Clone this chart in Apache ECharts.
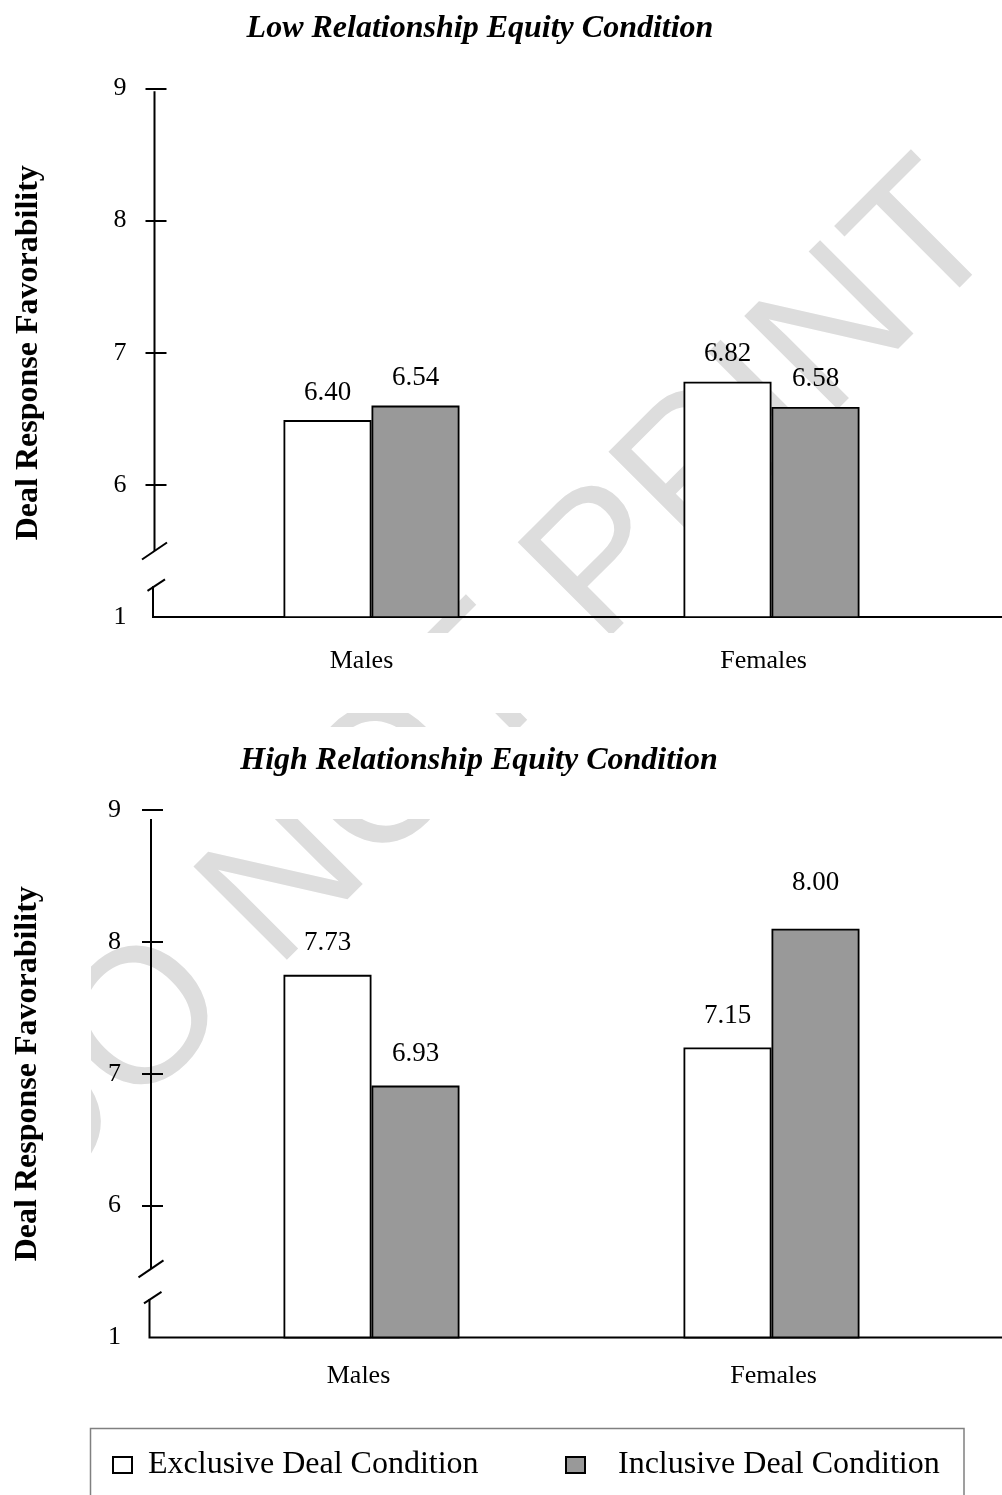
<!DOCTYPE html>
<html>
<head>
<meta charset="utf-8">
<script src="https://cdn.jsdelivr.net/npm/echarts@6/dist/echarts.min.js"></script>
<style>
html,body{margin:0;padding:0;background:#fff;}
#chart{width:1002px;height:1495px;}
</style>
</head>
<body>
<div id="chart"></div>
<script>
// ---------------- data ----------------
const categories = ['Males', 'Females'];
const seriesNames = ['Exclusive Deal Condition', 'Inclusive Deal Condition'];
const panelTitles = ['Low Relationship Equity Condition', 'High Relationship Equity Condition'];
const yAxisTitle = 'Deal Response Favorability';
const yTickValues = [5, 6, 7, 8, 9];
const yTickLabels = ['1', '6', '7', '8', '9'];
const yMarkValues = [6, 7, 8, 9];
// bar heights as drawn
const lowExclusive = [6.49, 6.78];
const lowInclusive = [6.60, 6.59];
const highExclusive = [7.75, 7.20];
const highInclusive = [6.91, 8.10];
// printed means
const lowExclusiveLabels = ['6.40', '6.82'];
const lowInclusiveLabels = ['6.54', '6.58'];
const highExclusiveLabels = ['7.73', '7.15'];
const highInclusiveLabels = ['6.93', '8.00'];
const watermarkText = 'DO NOT PRINT';

// ---------------- layout ----------------
const SERIF = "'Liberation Serif','Times New Roman',Times,serif";
const SANS = "'Liberation Sans',Arial,sans-serif";
const GRID_LEFT = 171.5, GRID_W = 800;
const panels = [
  {top: 88.3, height: 528.8, axisX: 154.5, labelMargin: 28, nameGap: 110, xLabelMargin: 31, labelDist: 14,
   titleTop: 8, titleX: 475, axisTopGap: 3, break1: 5.5, break2: 5.24, catShift: [-10, -8], labelRaise: {}},
  {top: 810, height: 527.5, axisX: 151, labelMargin: 30, nameGap: 107, xLabelMargin: 26, labelDist: 18,
   titleTop: 740, titleX: 474, axisTopGap: 9, break1: 5.52, break2: 5.30, catShift: [-13, 2], labelRaise: {'1-1': 14}}
];
const panelData = [
  [lowExclusive, lowInclusive, lowExclusiveLabels, lowInclusiveLabels],
  [highExclusive, highInclusive, highExclusiveLabels, highInclusiveLabels]
];

const chart = echarts.init(document.getElementById('chart'), null, {renderer: 'canvas'});

const grids = [], xAxes = [], yAxes = [], series = [], titles = [];
panels.forEach((p, i) => {
  grids.push({left: GRID_LEFT, width: GRID_W, top: p.top, height: p.height, containLabel: false});
  titles.push({
    text: panelTitles[i], left: p.titleX, top: p.titleTop, textAlign: 'center',
    textStyle: {fontFamily: SERIF, fontSize: 32, fontWeight: 'bold', fontStyle: 'italic', color: '#000'}
  });
  const rich = {};
  p.catShift.forEach((s, k) => {
    rich['c' + k] = {fontSize: 26, fontFamily: SERIF, color: '#000',
      padding: s < 0 ? [0, -2 * s, 0, 0] : [0, 0, 0, 2 * s]};
  });
  xAxes.push({
    type: 'category', gridIndex: i, data: categories,
    axisLine: {show: false}, axisTick: {show: false}, splitLine: {show: false},
    axisLabel: {
      margin: p.xLabelMargin, fontSize: 26, fontFamily: SERIF, color: '#000',
      formatter: (v, idx) => '{c' + idx + '|' + v + '}', rich: rich
    }
  });
  const offLeft = GRID_LEFT - p.axisX;
  yAxes.push({
    type: 'value', gridIndex: i, position: 'left', min: 5, max: 9, interval: 1, offset: offLeft,
    axisLine: {show: false}, splitLine: {show: false},
    axisTick: {show: true, inside: false, length: 9, customValues: yMarkValues, lineStyle: {color: '#000', width: 2}},
    axisLabel: {
      customValues: yTickValues,
      formatter: v => yTickLabels[yTickValues.indexOf(v)],
      margin: p.labelMargin, fontSize: 26, fontFamily: SERIF, color: '#000'
    },
    name: yAxisTitle, nameLocation: 'middle', nameGap: p.nameGap,
    nameTextStyle: {fontSize: 32, fontWeight: 'bold', fontFamily: SERIF, color: '#000'}
  });
  yAxes.push({
    type: 'value', gridIndex: i, position: 'right', min: 5, max: 9, interval: 1,
    offset: -(GRID_LEFT + GRID_W - p.axisX),
    axisLine: {show: false}, splitLine: {show: false}, axisLabel: {show: false},
    axisTick: {show: true, inside: false, length: 12, customValues: yMarkValues, lineStyle: {color: '#000', width: 2}}
  });
  const d = panelData[i];
  const colors = ['#ffffff', '#999999'];
  [0, 1].forEach(k => {
    const labels = d[2 + k];
    const items = d[k].map((v, j) => {
      const extra = p.labelRaise[k + '-' + j];
      return extra ? {value: v, label: {distance: p.labelDist + extra}} : v;
    });
    series.push({
      type: 'bar', name: seriesNames[k], xAxisIndex: i, yAxisIndex: i * 2,
      data: items, barWidth: 88, barGap: '0%',
      itemStyle: {color: colors[k], borderColor: '#000', borderWidth: 1.8},
      label: {
        show: true, position: 'top', distance: p.labelDist,
        formatter: q => labels[q.dataIndex],
        fontSize: 27, fontFamily: SERIF, color: '#000'
      },
      emphasis: {disabled: true}, silent: true
    });
  });
});

const legendText = {fontSize: 32, fontFamily: SERIF, color: '#000'};
const option = {
  animation: false,
  backgroundColor: '#ffffff',
  title: titles,
  grid: grids,
  xAxis: xAxes,
  yAxis: yAxes,
  series: series,
  legend: [
    {data: [seriesNames[0]], left: 107, top: 1444, icon: 'rect', itemWidth: 19, itemHeight: 16,
     selectedMode: false, textStyle: Object.assign({padding: [0, 0, 0, 11]}, legendText)},
    {data: [seriesNames[1]], left: 560, top: 1444, icon: 'rect', itemWidth: 19, itemHeight: 16,
     selectedMode: false, textStyle: Object.assign({padding: [0, 0, 0, 28]}, legendText)}
  ]
};
chart.setOption(option);

// ---------------- decorations (axis with break, watermark, legend box) ----------------
const els = [];
els.push({
  type: 'text', x: -3, y: 1175, rotation: Math.PI / 4, z: -10, silent: true,
  style: {text: watermarkText, fill: '#dddddd', fontSize: 192, fontFamily: SANS, align: 'left', verticalAlign: 'middle'}
});
[[0, 0, 91, 1495], [91, 633, 911, 80], [91, 727, 911, 92]].forEach(r => {
  els.push({type: 'rect', z: -5, silent: true, shape: {x: r[0], y: r[1], width: r[2], height: r[3]}, style: {fill: '#ffffff'}});
});
els.push({type: 'rect', z: -4, silent: true, shape: {x: 90.5, y: 1428.5, width: 873.5, height: 120},
  style: {fill: '#ffffff', stroke: '#808080', lineWidth: 1.5}});

panels.forEach((p, i) => {
  const yi = i * 2;
  const y9 = chart.convertToPixel({yAxisIndex: yi}, 9);
  const y5 = chart.convertToPixel({yAxisIndex: yi}, 5);
  const yb1 = chart.convertToPixel({yAxisIndex: yi}, p.break1);
  const yb2 = chart.convertToPixel({yAxisIndex: yi}, p.break2);
  const x = p.axisX;
  const ls = {stroke: '#000', lineWidth: 2, fill: null};
  els.push({type: 'line', silent: true, shape: {x1: x, y1: y9 + p.axisTopGap, x2: x, y2: yb1}, style: ls});
  els.push({type: 'line', silent: true, shape: {x1: x - 12.5, y1: yb1 + 8.5, x2: x + 12.5, y2: yb1 - 8.5}, style: ls});
  els.push({type: 'line', silent: true, shape: {x1: x - 7, y1: yb2 + 5.5, x2: x + 10.5, y2: yb2 - 6}, style: ls});
  els.push({type: 'polyline', silent: true, shape: {points: [[x - 1.5, yb2 + 1], [x - 1.5, y5], [1002, y5]]}, style: ls});
});
chart.setOption({graphic: {elements: els}});
</script>
</body>
</html>
